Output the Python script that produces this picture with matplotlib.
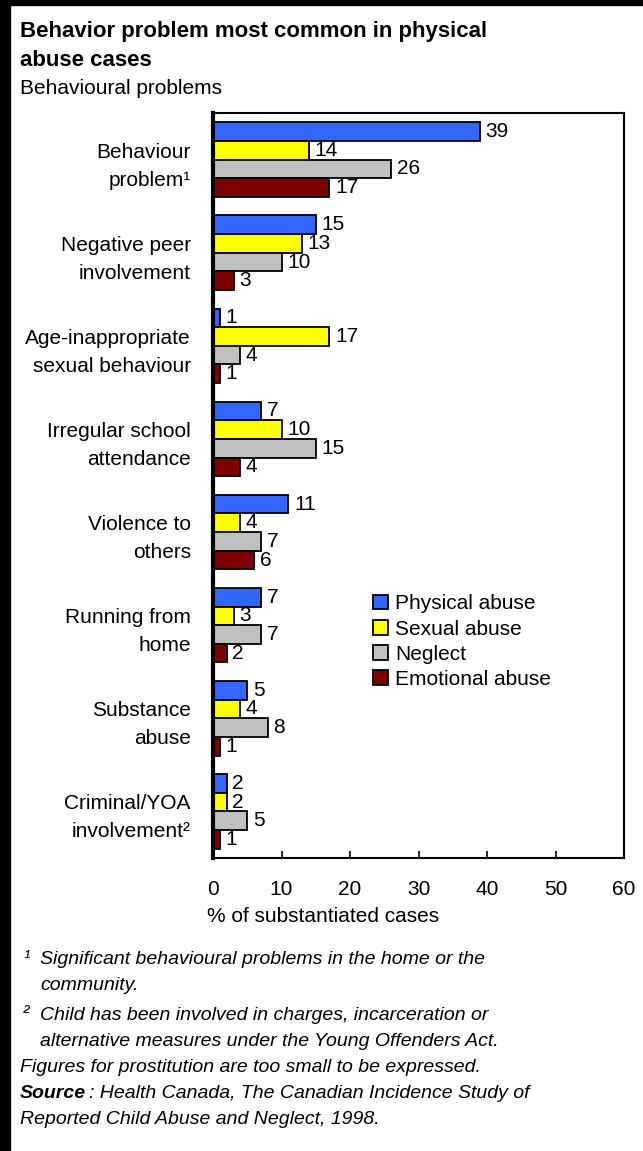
import matplotlib
matplotlib.use('Agg')
import matplotlib.pyplot as plt
from matplotlib.patches import Rectangle
import numpy as np

plt.rcParams['font.family'] = ['Liberation Sans', 'DejaVu Sans']

categories = ['Behaviour\nproblem\u00b9', 'Negative peer\ninvolvement',
              'Age-inappropriate\nsexual behaviour', 'Irregular school\nattendance',
              'Violence to\nothers', 'Running from\nhome', 'Substance\nabuse',
              'Criminal/YOA\ninvolvement\u00b2']
series = ['Physical abuse', 'Sexual abuse', 'Neglect', 'Emotional abuse']
physical = [39, 15, 1, 7, 11, 7, 5, 2]
sexual = [14, 13, 17, 10, 4, 3, 4, 2]
neglect = [26, 10, 4, 15, 7, 7, 8, 5]
emotional = [17, 3, 1, 4, 6, 2, 1, 1]
colors = ['#3366FF', '#FFFF00', '#C0C0C0', '#7F0000']
xticks = [0, 10, 20, 30, 40, 50, 60]

W, H = 643, 1151
fs = 15
fig = plt.figure(figsize=(W / 100, H / 100), dpi=100)
ax = fig.add_axes([213 / W, 1 - 858 / H, (624 - 213) / W, (858 - 113) / H])

y = np.arange(len(categories))
h = 0.2
for i, (vals, name, c) in enumerate(zip([physical, sexual, neglect, emotional], series, colors)):
    pos = y - 0.3 + i * h
    ax.barh(pos, vals, height=h, color=c, edgecolor='black', linewidth=1.3, label=name)
    for p, v in zip(pos, vals):
        ax.annotate(str(v), (v, p), xytext=(4, 0), textcoords='offset points',
                    va='center', ha='left', fontsize=fs)

ax.set_ylim(len(categories) - 0.5, -0.5)
ax.set_xlim(0, 60)
ax.set_yticks(y)
ax.set_yticklabels(categories, fontsize=fs, linespacing=1.6)
ax.tick_params(axis='y', length=0, pad=16)
ax.set_xticks(xticks)
ax.tick_params(axis='x', direction='in', length=5, width=1.2, labelsize=fs, pad=16)
for s in ['top', 'right', 'bottom']:
    ax.spines[s].set_linewidth(1.5)
ax.spines['left'].set_linewidth(3)

ax.legend(loc='upper left', bbox_to_anchor=(0.389, 0.354), frameon=False, fontsize=fs,
          handlelength=0.72, handleheight=0.72, handletextpad=0.35, labelspacing=0.3,
          borderaxespad=0, borderpad=0)

fig.text(207 / W, 1 - 917 / H, '% of substantiated cases', fontsize=fs, va='center')

fig.text(20 / W, 1 - 32 / H, 'Behavior problem most common in physical', fontsize=16,
         fontweight='bold', va='center')
fig.text(20 / W, 1 - 60 / H, 'abuse cases', fontsize=16, fontweight='bold', va='center')
fig.text(20 / W, 1 - 88 / H, 'Behavioural problems', fontsize=fs, va='center')

notes = [
    (23, 959, '\u00b9'), (40, 960, 'Significant behavioural problems in the home or the'),
    (40, 986, 'community.'),
    (23, 1014, '\u00b2'), (40, 1015, 'Child has been involved in charges, incarceration or'),
    (40, 1041, 'alternative measures under the Young Offenders Act.'),
    (20, 1068, 'Figures for prostitution are too small to be expressed.'),
    (89, 1094, ': Health Canada, The Canadian Incidence Study of'),
    (20, 1120, 'Reported Child Abuse and Neglect, 1998.'),
]
for x0, y0, t in notes:
    fig.text(x0 / W, 1 - y0 / H, t, fontsize=14, style='italic', va='center')
fig.text(20 / W, 1 - 1094 / H, 'Source', fontsize=14, style='italic', fontweight='bold',
         va='center')

fig.add_artist(Rectangle((0, 0), 10 / W, 1, transform=fig.transFigure, color='black'))
fig.add_artist(Rectangle((0, 1 - 5 / H), 1, 5 / H, transform=fig.transFigure, color='black'))

fig.savefig('out.png', dpi=100)
